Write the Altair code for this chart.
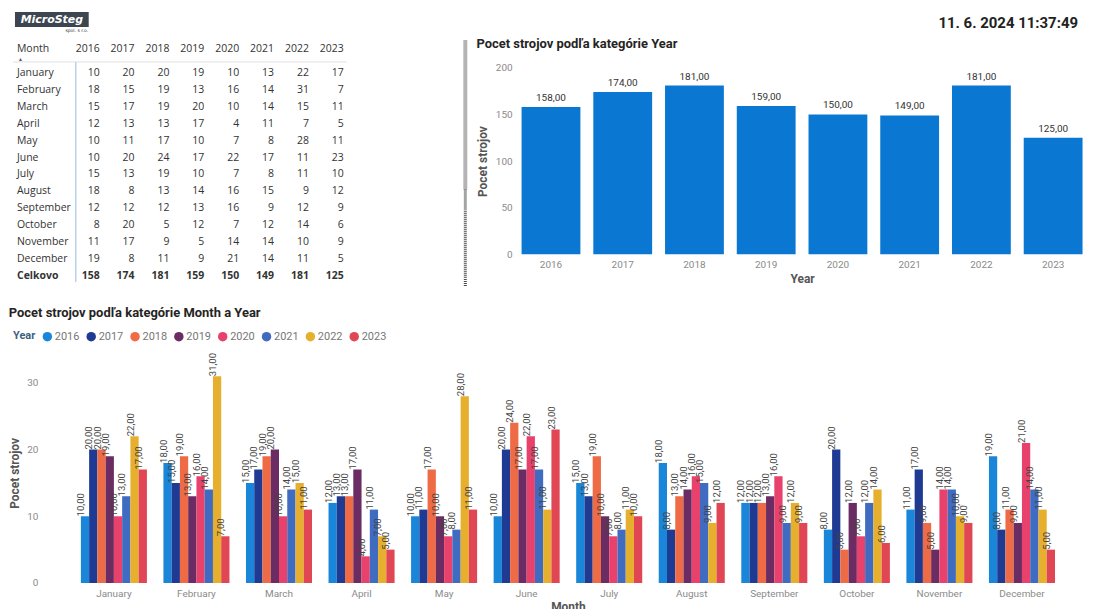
import altair as alt
import pandas as pd

# ---------------- data ----------------
years = ["2016", "2017", "2018", "2019", "2020", "2021", "2022", "2023"]
months = ["January", "February", "March", "April", "May", "June", "July",
          "August", "September", "October", "November", "December"]
y2016 = [10, 18, 15, 12, 10, 10, 15, 18, 12, 8, 11, 19]
y2017 = [20, 15, 17, 13, 11, 20, 13, 8, 12, 20, 17, 8]
y2018 = [20, 19, 19, 13, 17, 24, 19, 13, 12, 5, 9, 11]
y2019 = [19, 13, 20, 17, 10, 17, 10, 14, 13, 12, 5, 9]
y2020 = [10, 16, 10, 4, 7, 22, 7, 16, 16, 7, 14, 21]
y2021 = [13, 14, 14, 11, 8, 17, 8, 15, 9, 12, 14, 14]
y2022 = [22, 31, 15, 7, 28, 11, 11, 9, 12, 14, 10, 11]
y2023 = [17, 7, 11, 5, 11, 23, 10, 12, 9, 6, 9, 5]
year_colors = ["#1a86d9", "#1f3a93", "#ee6b45", "#6a2c62",
               "#e8426c", "#3f6bc0", "#e6b02e", "#e04653"]
total_label = "Celkovo"
logo_text = "MicroSteg"
logo_sub = "spol. s r.o."
stamp_text = "11. 6. 2024 11:37:49"
title_year = "Pocet strojov podľa kategórie Year"
title_month_year = "Pocet strojov podľa kategórie Month a Year"

series = [y2016, y2017, y2018, y2019, y2020, y2021, y2022, y2023]
rows = []
for yr, vals in zip(years, series):
    for m, v in zip(months, vals):
        rows.append({"Month": m, "Year": yr, "Pocet": v})
df = pd.DataFrame(rows)

TITLE_FONT = "Roboto"
TABLE_FONT = "Open Sans"
LBL = "replace(format(datum.{f}, '.2f'), '.', ',')"

# ---------------- header (logo + timestamp) ----------------
hdr_df = pd.DataFrame({"logo": [logo_text], "sub": [logo_sub], "stamp": [stamp_text]})
hbase = alt.Chart(hdr_df)
header = alt.layer(
    hbase.mark_rule(opacity=0).encode(x=alt.value(0), x2=alt.value(10), y=alt.value(0)),
    hbase.mark_rect(color="#3b4650").encode(
        x=alt.value(-33), x2=alt.value(41), y=alt.value(3), y2=alt.value(18)),
    hbase.mark_text(color="white", fontStyle="italic", fontWeight="bold",
                    fontSize=11, font="DejaVu Sans").encode(
        x=alt.value(4), y=alt.value(11), text="logo:N"),
    hbase.mark_text(color="#333", fontSize=4.5, font="DejaVu Sans").encode(
        x=alt.value(29), y=alt.value(21.5), text="sub:N"),
    hbase.mark_text(align="right", fontWeight="bold", fontSize=15,
                    font=TITLE_FONT, color="#222").encode(
        x=alt.value(1034), y=alt.value(14), text="stamp:N"),
).properties(width=1044, height=29)

# ---------------- table ----------------
x_cols = alt.X("Year:O", scale=alt.Scale(type="point", domain=years, range=[52, 297], padding=0),
               axis=None)
y_rows = alt.Y("Month:O", scale=alt.Scale(type="point", domain=months + [total_label],
                                          range=[5, 209], padding=0), axis=None)
tstyle = dict(font=TABLE_FONT, fontSize=10.5, color="#333", baseline="middle")
one = pd.DataFrame({"h": ["Month"], "arrow": ["▲"]})
table = alt.layer(
    alt.Chart(one).mark_rule(color="#e0e0e0", strokeWidth=1).encode(
        x=alt.value(-35), x2=alt.value(300), y=alt.value(-6)),
    alt.Chart(one).mark_rule(color="#b9d3ea", strokeWidth=1.5).encode(
        x=alt.value(28), y=alt.value(-6), y2=alt.value(215)),
    # scanner edge strip at the left of the Year chart
    alt.Chart(one).mark_rule(color="#b4b4b4", strokeWidth=4).encode(
        x=alt.value(419), y=alt.value(-28), y2=alt.value(122)),
    alt.Chart(one).mark_rule(color="#4a4a4a", strokeWidth=3, strokeDash=[1, 1]).encode(
        x=alt.value(419), y=alt.value(122), y2=alt.value(220)),
    alt.Chart(one).mark_text(align="left", **tstyle).encode(
        x=alt.value(-31), y=alt.value(-19), text="h:N"),
    alt.Chart(one).mark_text(align="left", font=TABLE_FONT, fontSize=5, color="#555").encode(
        x=alt.value(-30), y=alt.value(-9), text="arrow:N"),
    alt.Chart(pd.DataFrame({"Year": years})).mark_text(align="right", **tstyle).encode(
        x=x_cols, y=alt.value(-19), text="Year:N"),
    alt.Chart(pd.DataFrame({"Month": months})).mark_text(align="left", **tstyle).encode(
        x=alt.value(-31), y=y_rows, text="Month:N"),
    alt.Chart(pd.DataFrame({"Month": [total_label]})).mark_text(
        align="left", fontWeight="bold", **tstyle).encode(
        x=alt.value(-31), y=y_rows, text="Month:N"),
    alt.Chart(df).mark_text(align="right", **tstyle).encode(
        x=x_cols, y=y_rows, text="Pocet:Q"),
    alt.Chart(df).transform_aggregate(total="sum(Pocet)", groupby=["Year"]).transform_calculate(
        Month="'" + total_label + "'").mark_text(align="right", fontWeight="bold", **tstyle).encode(
        x=x_cols, y=y_rows, text="total:Q"),
).properties(width=300, height=187)

# ---------------- bar chart by Year ----------------
rbase = alt.Chart(df).transform_aggregate(
    total="sum(Pocet)", groupby=["Year"]).transform_calculate(lbl=LBL.format(f="total"))
rx = alt.X("Year:N", sort=years, scale=alt.Scale(paddingInner=0.18, paddingOuter=0.09),
           axis=alt.Axis(title="Year", labelAngle=0, labelPadding=5, titlePadding=4))
ry = alt.Y("total:Q", scale=alt.Scale(domain=[0, 200], nice=False),
           axis=alt.Axis(title="Pocet strojov", values=[0, 50, 100, 150, 200],
                         labelPadding=3, titlePadding=6))
right = alt.layer(
    rbase.mark_bar(color="#0a78d2").encode(x=rx, y=ry),
    rbase.mark_text(dy=-9, fontSize=10, font=TITLE_FONT, color="#333").encode(
        x=rx, y=ry, text="lbl:N"),
).properties(width=576, height=187,
             title=alt.TitleParams(title_year, anchor="start", fontSize=13, font=TITLE_FONT,
                                   fontWeight="bold", color="#252423", offset=12))

# ---------------- grouped bar chart Month x Year ----------------
bbase = alt.Chart(df).transform_calculate(lbl=LBL.format(f="Pocet"))
bx = alt.X("Month:N", sort=months, scale=alt.Scale(paddingInner=0.2, paddingOuter=0.4),
           axis=alt.Axis(title="Month", labelAngle=0, labelPadding=6, titlePadding=3))
bxo = alt.XOffset("Year:N", sort=years, scale=alt.Scale(paddingInner=0, paddingOuter=0))
by = alt.Y("Pocet:Q", scale=alt.Scale(domain=[0, 33], nice=False),
           axis=alt.Axis(title="Pocet strojov", values=[0, 10, 20, 30], labelPadding=10,
                         titlePadding=5))
bottom = alt.layer(
    bbase.mark_bar().encode(
        x=bx, xOffset=bxo, y=by,
        color=alt.Color("Year:N", sort=years,
                        scale=alt.Scale(domain=years, range=year_colors),
                        legend=alt.Legend(orient="none", legendX=-35, legendY=323,
                                          direction="horizontal", columns=8,
                                          titleOrient="left", title="Year",
                                          symbolType="circle", symbolSize=90,
                                          labelOffset=2, columnPadding=6,
                                          titlePadding=6))),
    bbase.mark_text(angle=270, align="left", baseline="middle", dy=-4, fontSize=9.5,
                    font=TITLE_FONT, color="#444").encode(
        x=bx, xOffset=bxo, y=by, text="lbl:N"),
).properties(width=1044, height=221,
             title=alt.TitleParams(title_month_year, anchor="start", fontSize=13,
                                   font=TITLE_FONT, fontWeight="bold", color="#252423",
                                   offset=33))

row2 = alt.hconcat(table, right, spacing=9)
top = alt.vconcat(header, row2, spacing=0)
chart = alt.vconcat(top, bottom, spacing=18, padding=0).configure_view(
    stroke=None
).configure_axis(
    domain=False, ticks=False, grid=False,
    labelColor="#8a8a8a", labelFont=TITLE_FONT, labelFontSize=10,
    titleColor="#555", titleFont=TITLE_FONT, titleFontSize=12, titleFontWeight="bold",
).configure_legend(
    labelColor="#777", labelFont=TITLE_FONT, labelFontSize=11,
    titleColor="#3d5f80", titleFont=TITLE_FONT, titleFontSize=11, titleFontWeight="bold",
)

chart.save("out.html", embed_options={"renderer": "svg", "actions": False})
